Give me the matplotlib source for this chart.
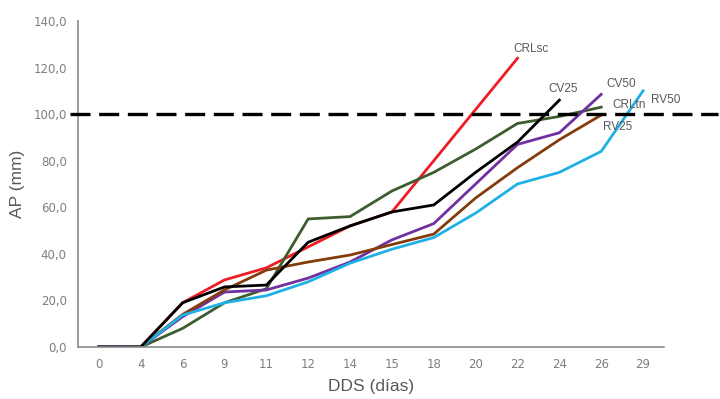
import matplotlib
matplotlib.use("Agg")
import matplotlib.pyplot as plt

# días después de siembra (categorías del eje X)
dds = ["0", "4", "6", "9", "11", "12", "14", "15", "18", "20", "22", "24", "26", "29"]

crl_sc = [0, 0, 19, 28.8, 34, 43, 52, 58, 80, 102, 124]
cv25 = [0, 0, 19, 25.8, 26.6, 45, 52, 58, 61, 75, 88, 106]
crl_tn = [0, 0, 8, 19, 25, 55, 56, 67, 75, 85, 96, 99, 103]
cv50 = [0, 0, 13, 23.6, 24.5, 29.6, 36.5, 46, 53, 70, 87, 92, 108.5]
rv25 = [0, 0, 14, 24.5, 33, 36.5, 39.5, 44, 48.5, 64, 77, 89, 99.6]
rv50 = [0, 0, 13.7, 19, 22, 28, 36, 42, 47, 57.5, 70, 75, 84, 110]

series = [
    ("CRLsc", crl_sc, "#ee1c25"),
    ("CRLtn", crl_tn, "#3e5c2e"),
    ("CV50", cv50, "#7030a0"),
    ("RV25", rv25, "#843c0c"),
    ("RV50", rv50, "#1fb0e6"),
    ("CV25", cv25, "#000000"),
]

# posición de las etiquetas (x en categorías, y en mm)
label_pos = {
    "CRLsc": (10.32, 128),
    "CV25": (11.09, 110.8),
    "CV50": (12.47, 113),
    "CRLtn": (12.66, 104),
    "RV50": (13.55, 106),
    "RV25": (12.4, 94.5),
}

grey = "#7f7f7f"

fig = plt.figure(figsize=(7.2, 3.99), dpi=100)
ax = fig.add_axes([0.1083, 0.1303, 0.8139, 0.8171])

for name, vals, color in series:
    ax.plot(range(len(vals)), vals, color=color, linewidth=2.0, solid_joinstyle="miter")

ax.plot([-0.69, 14.79], [100, 100], color="black", linewidth=2.4,
        dashes=(6, 2.6), clip_on=False, zorder=5)

for name, (x, y) in label_pos.items():
    ax.text(x, y, name, color="#595959", fontsize=8.5, ha="center", va="center",
            family="Liberation Sans")

ax.set_xlim(-0.5, len(dds) - 0.5)
ax.set_ylim(0, 140)
ax.set_xticks(range(len(dds)))
ax.set_xticklabels(dds)
ax.set_yticks(range(0, 141, 20))
ax.set_yticklabels([f"{v},0" for v in range(0, 141, 20)])
ax.tick_params(length=0, colors=grey, labelsize=8.5, pad=8)

for side in ("top", "right"):
    ax.spines[side].set_visible(False)
for side in ("left", "bottom"):
    ax.spines[side].set_color("#8c8c8c")
    ax.spines[side].set_linewidth(1.2)

ax.set_xlabel("DDS (días)", color="#595959", fontsize=12.5, family="Liberation Sans", labelpad=6)
ax.set_ylabel("AP (mm)", color="#595959", fontsize=12.5, family="Liberation Sans", labelpad=6)

fig.savefig("out.png", dpi=100)
